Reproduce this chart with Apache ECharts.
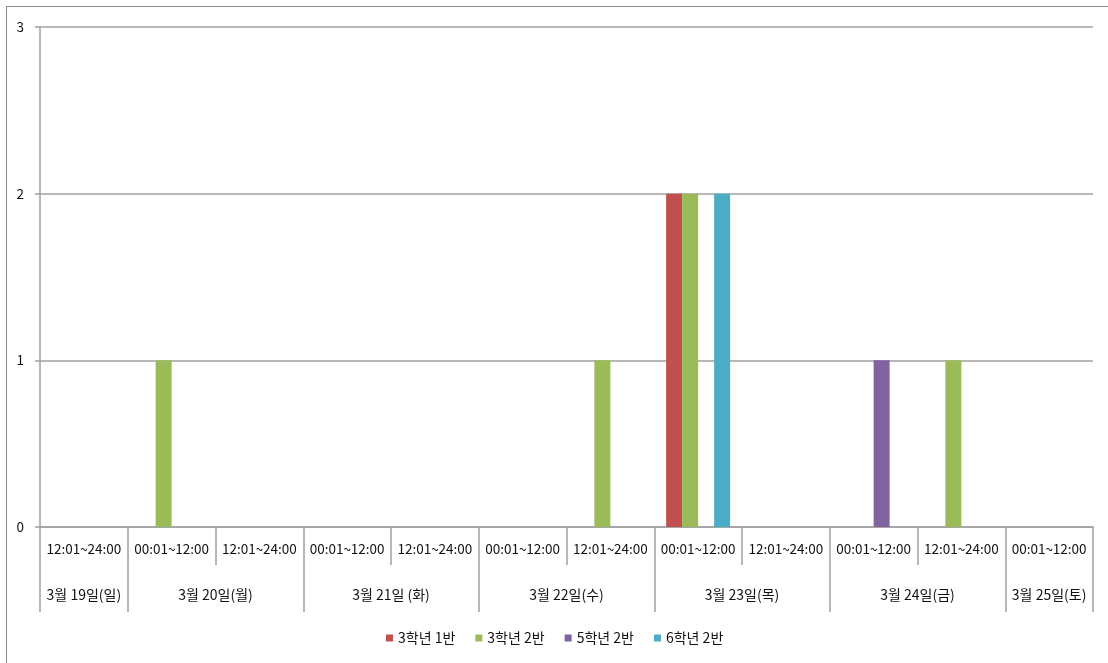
<!DOCTYPE html>
<html><head><meta charset="utf-8">
<script src="https://cdn.jsdelivr.net/npm/echarts@6/dist/echarts.min.js"></script>
<style>
html,body{margin:0;padding:0;background:#fff;}
#wrap{position:relative;width:1108px;height:663px;overflow:hidden;}
#frame{position:absolute;left:6px;top:6px;width:1200px;height:700px;border-left:1px solid #8c8c8c;border-top:1px solid #8c8c8c;}
#chart{position:absolute;left:0;top:0;width:1108px;height:663px;}
</style></head>
<body><div id="wrap"><div id="frame"></div><div id="chart"></div></div>
<script>
const timeSlots = ['12:01~24:00','00:01~12:00','12:01~24:00','00:01~12:00','12:01~24:00','00:01~12:00','12:01~24:00','00:01~12:00','12:01~24:00','00:01~12:00','12:01~24:00','00:01~12:00'];
const dates = ['3월 19일(일)','3월 20일(월)','3월 21일 (화)','3월 22일(수)','3월 23일(목)','3월 24일(금)','3월 25일(토)'];
const dateSpans = [1,2,2,2,2,2,1];
const seriesNames = ['3학년 1반','3학년 2반','5학년 2반','6학년 2반'];
const class3_1 = [0,0,0,0,0,0,0,2,0,0,0,0];
const class3_2 = [0,1,0,0,0,0,1,2,0,0,1,0];
const class5_2 = [0,0,0,0,0,0,0,0,0,1,0,0];
const class6_2 = [0,0,0,0,0,0,0,2,0,0,0,0];
const colors = ['#C0504D','#9BBB59','#8064A2','#4BACC6'];

// date group boundaries and centres (in category units)
const bounds = [0]; dateSpans.forEach(s => bounds.push(bounds[bounds.length-1] + s));
const centres = dateSpans.map((s,i) => bounds[i] + s/2);

const font = '"Noto Sans CJK KR", "Noto Sans", sans-serif';
const gray = '#a0a0a0';
const txt = '#111111';
const chart = echarts.init(document.getElementById('chart'));
const values = [class3_1, class3_2, class5_2, class6_2];
chart.setOption({
  animation:false,
  color: colors,
  textStyle:{fontFamily:font},
  grid:{left:40,right:15,top:27,bottom:136,containLabel:false},
  legend:{
    bottom:13,left:381,icon:'rect',itemWidth:7,itemHeight:7,itemGap:20,
    textStyle:{fontSize:14,color:txt,fontFamily:font},
    data:seriesNames
  },
  xAxis:[
    {type:'category',data:timeSlots,position:'bottom',
     axisLine:{lineStyle:{color:gray,width:1.5}},
     axisTick:{show:true,interval:0,length:38,lineStyle:{color:gray,width:1.5}},
     axisLabel:{interval:0,margin:15,fontSize:13.5,color:txt,fontFamily:font}
    },
    {type:'value',min:0,max:12,position:'bottom',
     axisLine:{show:false},
     splitLine:{show:false},
     axisTick:{show:true,customValues:bounds,length:85,lineStyle:{color:gray,width:1.5}},
     axisLabel:{customValues:centres,margin:61,fontSize:14,color:txt,fontFamily:font,
       formatter:function(v){const i=centres.indexOf(v);return i>=0?dates[i]:'';}}
    }
  ],
  yAxis:{type:'value',min:0,max:3,interval:1,
    axisLine:{show:true,lineStyle:{color:gray,width:1.5}},
    axisTick:{show:true,length:5,lineStyle:{color:gray,width:1.5}},
    axisLabel:{margin:16,fontSize:13.5,color:txt,fontFamily:font},
    splitLine:{lineStyle:{color:gray,width:1.5}}
  },
  series: seriesNames.map((n,i)=>({
    name:n,type:'bar',xAxisIndex:0,data:values[i],barWidth:16,barGap:'0%'
  }))
});
</script></body></html>
